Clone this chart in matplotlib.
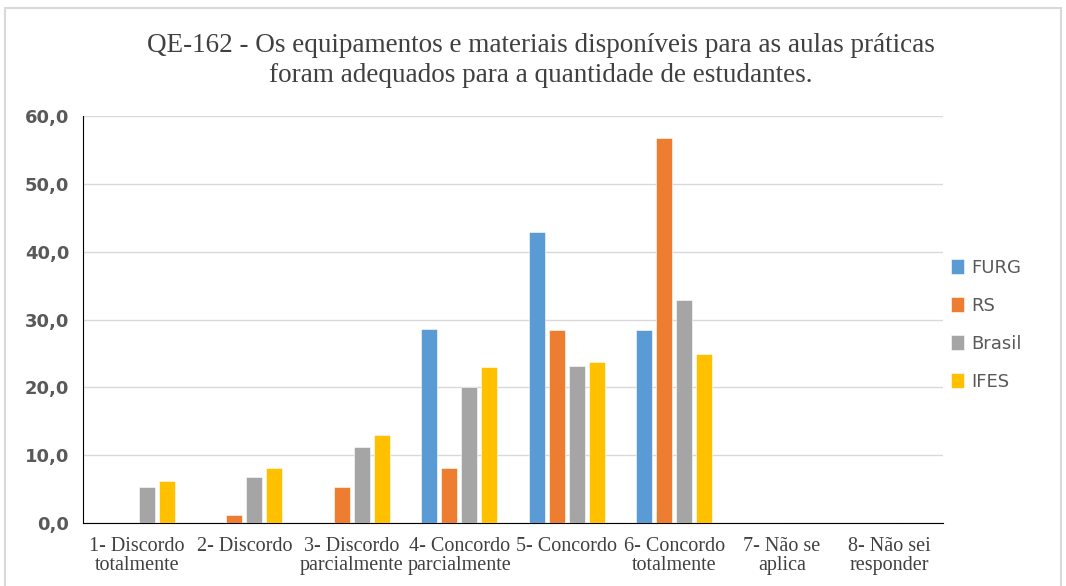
import matplotlib.pyplot as plt
import numpy as np
from matplotlib.patches import Rectangle

categories = ["1- Discordo\ntotalmente", "2- Discordo", "3- Discordo\nparcialmente",
              "4- Concordo\nparcialmente", "5- Concordo", "6- Concordo\ntotalmente",
              "7- Não se\naplica", "8- Não sei\nresponder"]
series_names = ["FURG", "RS", "Brasil", "IFES"]
furg = [0.0, 0.0, 0.0, 28.6, 42.9, 28.5, 0.0, 0.0]
rs = [0.0, 1.2, 5.3, 8.1, 28.4, 56.7, 0.0, 0.0]
brasil = [5.3, 6.8, 11.2, 20.0, 23.1, 32.9, 0.2, 0.2]
ifes = [6.2, 8.1, 13.0, 23.0, 23.8, 24.9, 0.0, 0.0]
colors = ["#5B9BD5", "#ED7D31", "#A5A5A5", "#FFC000"]
title = ("QE-162 - Os equipamentos e materiais disponíveis para as aulas práticas\n"
         "foram adequados para a quantidade de estudantes.")

fig = plt.figure(figsize=(10.66, 5.86), dpi=100)
ax = fig.add_axes([0.0779, 0.1075, 0.8067, 0.6945])

x = np.arange(len(categories))
step = 0.186
width = 0.145
for i, (name, vals) in enumerate(zip(series_names, [furg, rs, brasil, ifes])):
    ax.bar(x + (i - 1.5) * step, vals, width, color=colors[i], label=name,
           edgecolor="white", linewidth=0.4, zorder=3)

ax.set_xlim(-0.5, len(categories) - 0.5)
ax.set_ylim(0, 60)
ax.set_yticks(np.arange(0, 61, 10))
ax.set_yticklabels([f"{v:.1f}".replace(".", ",") for v in np.arange(0, 61, 10)],
                   fontsize=13, fontweight="bold", color="#595959", family="DejaVu Sans")
ax.set_xticks(x)
ax.set_xticklabels(categories, fontsize=14.5, family="Liberation Serif", color="#404040",
                   linespacing=1.0)
ax.tick_params(axis="y", length=0, pad=10)
ax.tick_params(axis="x", length=0, pad=10)
ax.grid(axis="y", color="#D9D9D9", linewidth=1, zorder=0)
for s in ["top", "right"]:
    ax.spines[s].set_visible(False)
ax.spines["left"].set_color("#000000")
ax.spines["bottom"].set_color("#000000")

fig.text(0.507, 0.897, title, ha="center", va="center", fontsize=19.5,
         family="Liberation Serif", color="#404040", linespacing=1.3)

leg = ax.legend(loc="center left", bbox_to_anchor=(0.99, 0.487), frameon=False,
                prop={"family": "DejaVu Sans", "size": 13}, labelspacing=1.1,
                handlelength=0.75, handleheight=0.9, handletextpad=0.4)
for t in leg.get_texts():
    t.set_color("#595959")

fig.patches.append(Rectangle((0.005, -0.01), 0.99, 0.997, transform=fig.transFigure,
                             fill=False, edgecolor="#D9D9D9", linewidth=1.5))

fig.savefig("out.png", dpi=100)
